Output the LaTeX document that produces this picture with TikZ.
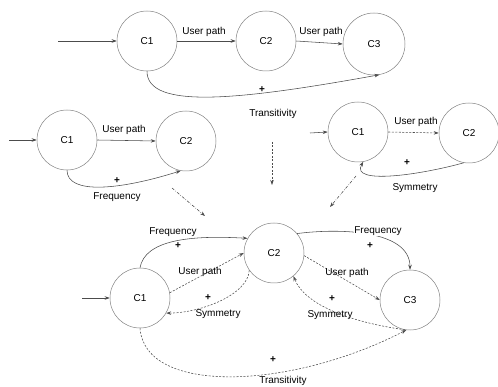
\documentclass[tikz,border=0pt]{standalone}
\usepackage{fontspec}
\setmainfont{Liberation Sans}
\usetikzlibrary{arrows.meta}
\begin{document}
\begin{tikzpicture}[x=1pt,y=-1pt,
  state/.style={circle,draw=black!50,line width=0.5pt,minimum size=60pt,inner sep=0pt,font=\fontsize{10}{12}\selectfont},
  conn/.style={draw=black!70,line width=0.55pt,-{Stealth[length=5pt,width=3.5pt]}},
  dconn/.style={conn,dashed,dash pattern=on 2pt off 1.5pt},
  ddconn/.style={conn,dash pattern=on 3pt off 1.5pt on 0.6pt off 1.5pt},
  lab/.style={font=\fontsize{10}{12}\selectfont,inner sep=1pt},
  plus/.style={font=\fontsize{10}{10}\selectfont\bfseries,inner sep=0pt}]
\useasboundingbox (0,0) rectangle (498,387);
% ---- top row
\node[state] (T1) at (147,41) {C1};
\node[state] (T2) at (266,41) {C2};
\node[state,minimum size=62pt] (T3) at (374,44) {C3};
\coordinate (tin) at (58,41);
\draw[conn] (tin) -- (T1.west);
\draw[conn] (T1.east) -- (T2.west);
\draw[conn] (T2.east) -- (T3.west);
\node[lab] (tu1) at (204,32) {User path};
\node[lab] (tu2) at (321,32) {User path};
\draw[conn] (T1.south) .. controls (147,110) and (240,100) .. (T3.-80);
\node[plus] (tp) at (262,90) {+};
\node[lab] (tt) at (273,114) {Transitivity};
% ---- middle left
\node[state] (L1) at (67,140) {C1};
\node[state] (L2) at (186,141) {C2};
\coordinate (lin) at (9,140);
\draw[conn] (lin) -- (L1.west);
\draw[conn] (L1.east) -- (L2.west);
\node[lab] (lu) at (124,130) {User path};
\draw[conn] (L1.south) .. controls (67,195) and (120,190) .. (L2.-100);
\node[plus] (lp) at (117,181) {+};
\node[lab] (lf) at (117,197) {Frequency};
% ---- middle right
\node[state] (R1) at (358,132) {C1};
\node[state] (R2) at (469,133) {C2};
\coordinate (rin) at (310,133);
\draw[conn] (rin) -- (R1.west);
\draw[dconn] (R1.east) -- (R2.west);
\node[lab] (ru) at (416,122) {User path};
\draw[conn] (R2.-100) .. controls (420,175) and (350,185) .. (R1.-80);
\node[plus] (rp) at (407,163) {+};
\node[lab] (rs) at (415,188) {Symmetry};
% ---- arrows to the bottom
\coordinate (d1) at (272,142);
\coordinate (d2) at (272,185);
\draw[dconn] (d1) -- (d2);
\coordinate (g1) at (172,188);
\coordinate (g2) at (205,216);
\draw[ddconn] (g1) -- (g2);
\coordinate (h1) at (356,176);
\coordinate (h2) at (330,207);
\draw[ddconn] (h1) -- (h2);
% ---- bottom
\node[state] (B1) at (140,298) {C1};
\node[state] (B2) at (274,253) {C2};
\node[state] (B3) at (410,300) {C3};
\coordinate (bin) at (82,298);
\draw[conn] (bin) -- (B1.west);
% frequency C1->C2
\draw[conn] (B1.north) .. controls (145,240) and (190,235) .. (B2.151);
\node[lab] (bf1) at (173,232) {Frequency};
\node[plus] (bp1) at (178,246) {+};
% user path C1->C2
\draw[dconn] (B1.10) -- (B2.west);
\node[lab] (bu1) at (200,272) {User path};
% symmetry C2->C1
\draw[dconn] (B2.-145) .. controls (248,295) and (200,313) .. (B1.-30);
\node[plus] (bp2) at (208,298) {+};
\node[lab] (bs1) at (218,314) {Symmetry};
% frequency C2->C3
\draw[conn] (B2.40) .. controls (340,228) and (410,230) .. (B3.north);
\node[lab,fill=white,inner sep=0.5pt] (bf2) at (378,231) {Frequency};
\node[plus] (bp3) at (370,246) {+};
% user path C2->C3
\draw[dconn] (B2.-5) -- (B3.west);
\node[lab] (bu2) at (347,273) {User path};
% symmetry C3->C2
\draw[dconn] (B3.-100) .. controls (350,322) and (305,305) .. (B2.-50);
\node[plus] (bp4) at (332,299) {+};
\node[lab] (bs2) at (330,315) {Symmetry};
% transitivity C1->C3
\draw[dconn] (B1.south) .. controls (145,395) and (290,390) .. (B3.-97);
\node[plus] (bp5) at (273,360) {+};
\node[lab] (bt) at (283,381) {Transitivity};
\end{tikzpicture}
\end{document}
